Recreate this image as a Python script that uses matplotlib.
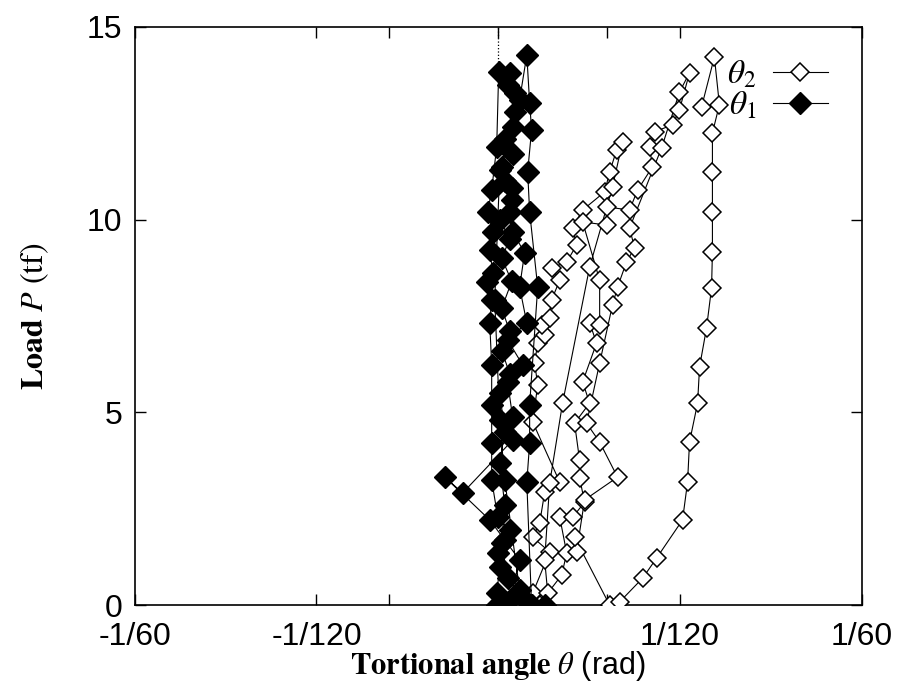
import numpy as np
import matplotlib
matplotlib.use("Agg")
import matplotlib.pyplot as plt

plt.rcParams.update({
    "font.family": ["Liberation Sans", "DejaVu Sans"],
    "mathtext.fontset": "stix",
    "font.size": 23,
})

# torsional angle in mrad, load in tf
theta1_mrad = [
    -0.07, -0.07, 0.07, -0.02, 0.53, -0.02, -0.30, -0.30, -0.30, -0.30,
    -0.39, -0.30, -0.53, -0.25, -0.39, -0.25, -0.48, -0.30, -0.07, 0.02,
    0.53, 0.76, 0.66, 0.16, 0.62, 0.53, 0.66, 1.21, 0.98, 1.31,
    0.43, 1.12, 0.43, 0.66, 0.66, -1.63, -2.45, -0.39, 0.30, 0.98,
    0.53, 1.21, 1.53, 1.31, 1.44, 1.44, 1.81, 1.44, 1.35, 1.53,
    1.44, 1.31, 0.98, 0.07, -0.16, 0.07, 0.30, 0.98, 2.13,
    0.43, 0.16, 0.30, 0.07, 0.30, 0.07, 0.53, 0.16, 0.53, 0.16,
    0.62, 0.16, 0.53, 0.07, 0.62, 0.30, 0.66, 0.30, 0.76, 0.43,
]
load1 = [
    0.00, 0.31, 0.99, 1.35, 1.95, 2.28, 3.24, 4.20, 5.19, 6.23,
    7.32, 7.92, 8.38, 8.62, 9.21, 9.68, 10.20, 10.77, 11.89, 13.83,
    13.81, 13.29, 12.41, 11.37, 10.82, 10.20, 9.68, 9.14, 8.25, 7.32,
    6.88, 6.23, 5.79, 4.88, 4.28, 2.91, 3.32, 2.21, 1.69, 1.17,
    0.13, 0.13, 0.00, 3.19, 4.20, 5.19, 8.25, 10.20, 11.24, 12.33,
    13.03, 14.27, 13.11, 11.29, 7.92, 4.80, 3.24, 0.39, 0.00,
    0.70, 1.60, 2.60, 3.70, 4.50, 5.50, 6.00, 6.60, 7.10, 7.70,
    8.40, 9.00, 9.50, 10.00, 10.50, 11.00, 11.70, 12.10, 12.80, 13.50,
]

theta2_mrad = [
    1.90, 1.58, 2.36, 1.58, 1.90, 2.13, 2.82, 1.58, 1.81, 1.67,
    1.81, 2.13, 1.99, 2.36, 2.45, 2.82, 2.45, 3.14, 3.59, 3.41,
    3.87, 4.88, 5.11, 5.43, 5.70,
    5.24, 4.19, 2.95, 2.36, 2.13, 2.27,
    2.91, 3.14, 2.82, 3.41, 3.96, 3.73, 3.73, 3.50, 4.19, 3.87,
    4.51, 4.19, 4.65, 4.65, 3.87, 4.97, 4.97, 6.02, 6.39, 7.07,
    6.94, 7.17, 7.99, 8.31, 8.77,
    8.31, 7.49, 6.02, 6.25, 5.88, 5.47, 5.24, 4.65, 4.05, 4.65,
    5.47, 3.96, 3.59, 3.50,
    5.11, 5.56, 6.62, 7.26, 8.45, 8.68, 8.77, 9.14, 9.23, 9.55,
    9.78, 9.82, 9.82, 9.82, 9.82, 10.14, 9.91, 9.32,
]
load2 = [
    0.00, 0.31, 1.38, 1.76, 2.13, 2.93, 3.19, 4.75, 5.71, 6.28,
    6.80, 7.01, 7.27, 7.45, 7.92, 8.43, 8.75, 8.90, 9.34, 9.78,
    10.25, 10.72, 11.24, 11.81, 12.02,
    10.85, 8.77, 5.24, 3.17, 1.17, 0.31,
    0.78, 1.35, 2.28, 2.28, 2.67, 3.30, 3.76, 4.72, 5.24, 5.79,
    6.80, 7.32, 7.27, 8.43, 9.94, 9.86, 10.33, 10.25, 10.77, 11.37,
    11.89, 12.28, 12.46, 12.85, 13.81,
    13.31, 11.86, 9.78, 9.27, 8.90, 8.25, 7.79, 6.28, 4.72, 4.23,
    3.32, 2.73, 1.38, 1.76,
    0.00, 0.08, 0.70, 1.22, 2.21, 3.19, 4.23, 5.24, 6.18, 7.19,
    8.23, 9.16, 10.20, 11.24, 12.25, 12.98, 14.22, 12.92,
]

xticks = [-1 / 60, -1 / 120, -1 / 200, 0, 1 / 200, 1 / 120, 1 / 60]
xticklabels = ["-1/60", "-1/120", "", "", "", "1/120", "1/60"]
yticks = [0, 5, 10, 15]

fig = plt.figure(figsize=(9.1, 6.9), dpi=100)
ax = fig.add_axes([0.148, 0.123, 0.799, 0.838])

t1 = np.array(theta1_mrad) / 1000
t2 = np.array(theta2_mrad) / 1000

ax.vlines(0, load1[19], 15, colors="k", linestyles="dotted", lw=0.9)
ax.plot(t2, load2, "-", color="k", lw=0.8, marker="D", ms=9.5,
        mfc="white", mec="k", mew=1.1, label=r"$\theta_2$", zorder=3)
ax.plot(t1, load1, "-", color="k", lw=0.8, marker="D", ms=11,
        mfc="k", mec="k", mew=1.0, label=r"$\theta_1$", zorder=4)

ax.set_xlim(-1 / 60, 1 / 60)
ax.set_ylim(0, 15)
ax.set_xticks(xticks)
ax.set_xticklabels(xticklabels)
ax.set_yticks(yticks)
ax.tick_params(direction="in", top=True, right=True, length=8, width=1)
ax.tick_params(axis="x", pad=12)
ax.tick_params(axis="y", pad=9)
for s in ax.spines.values():
    s.set_linewidth(1.2)

ax.set_xlabel(r"$\mathbf{Tortional\ angle}\ \theta$ (rad)", fontsize=22, labelpad=-2)
ax.set_ylabel(r"$\mathbf{Load}\ P\ \mathrm{(tf)}$", fontsize=23, labelpad=26)

ax.legend(loc="upper right", bbox_to_anchor=(0.985, 0.985), markerfirst=False,
          frameon=False, handlelength=1.65, handletextpad=0.5, labelspacing=0.0,
          fontsize=24, borderaxespad=0.3)

fig.savefig("out.png")
